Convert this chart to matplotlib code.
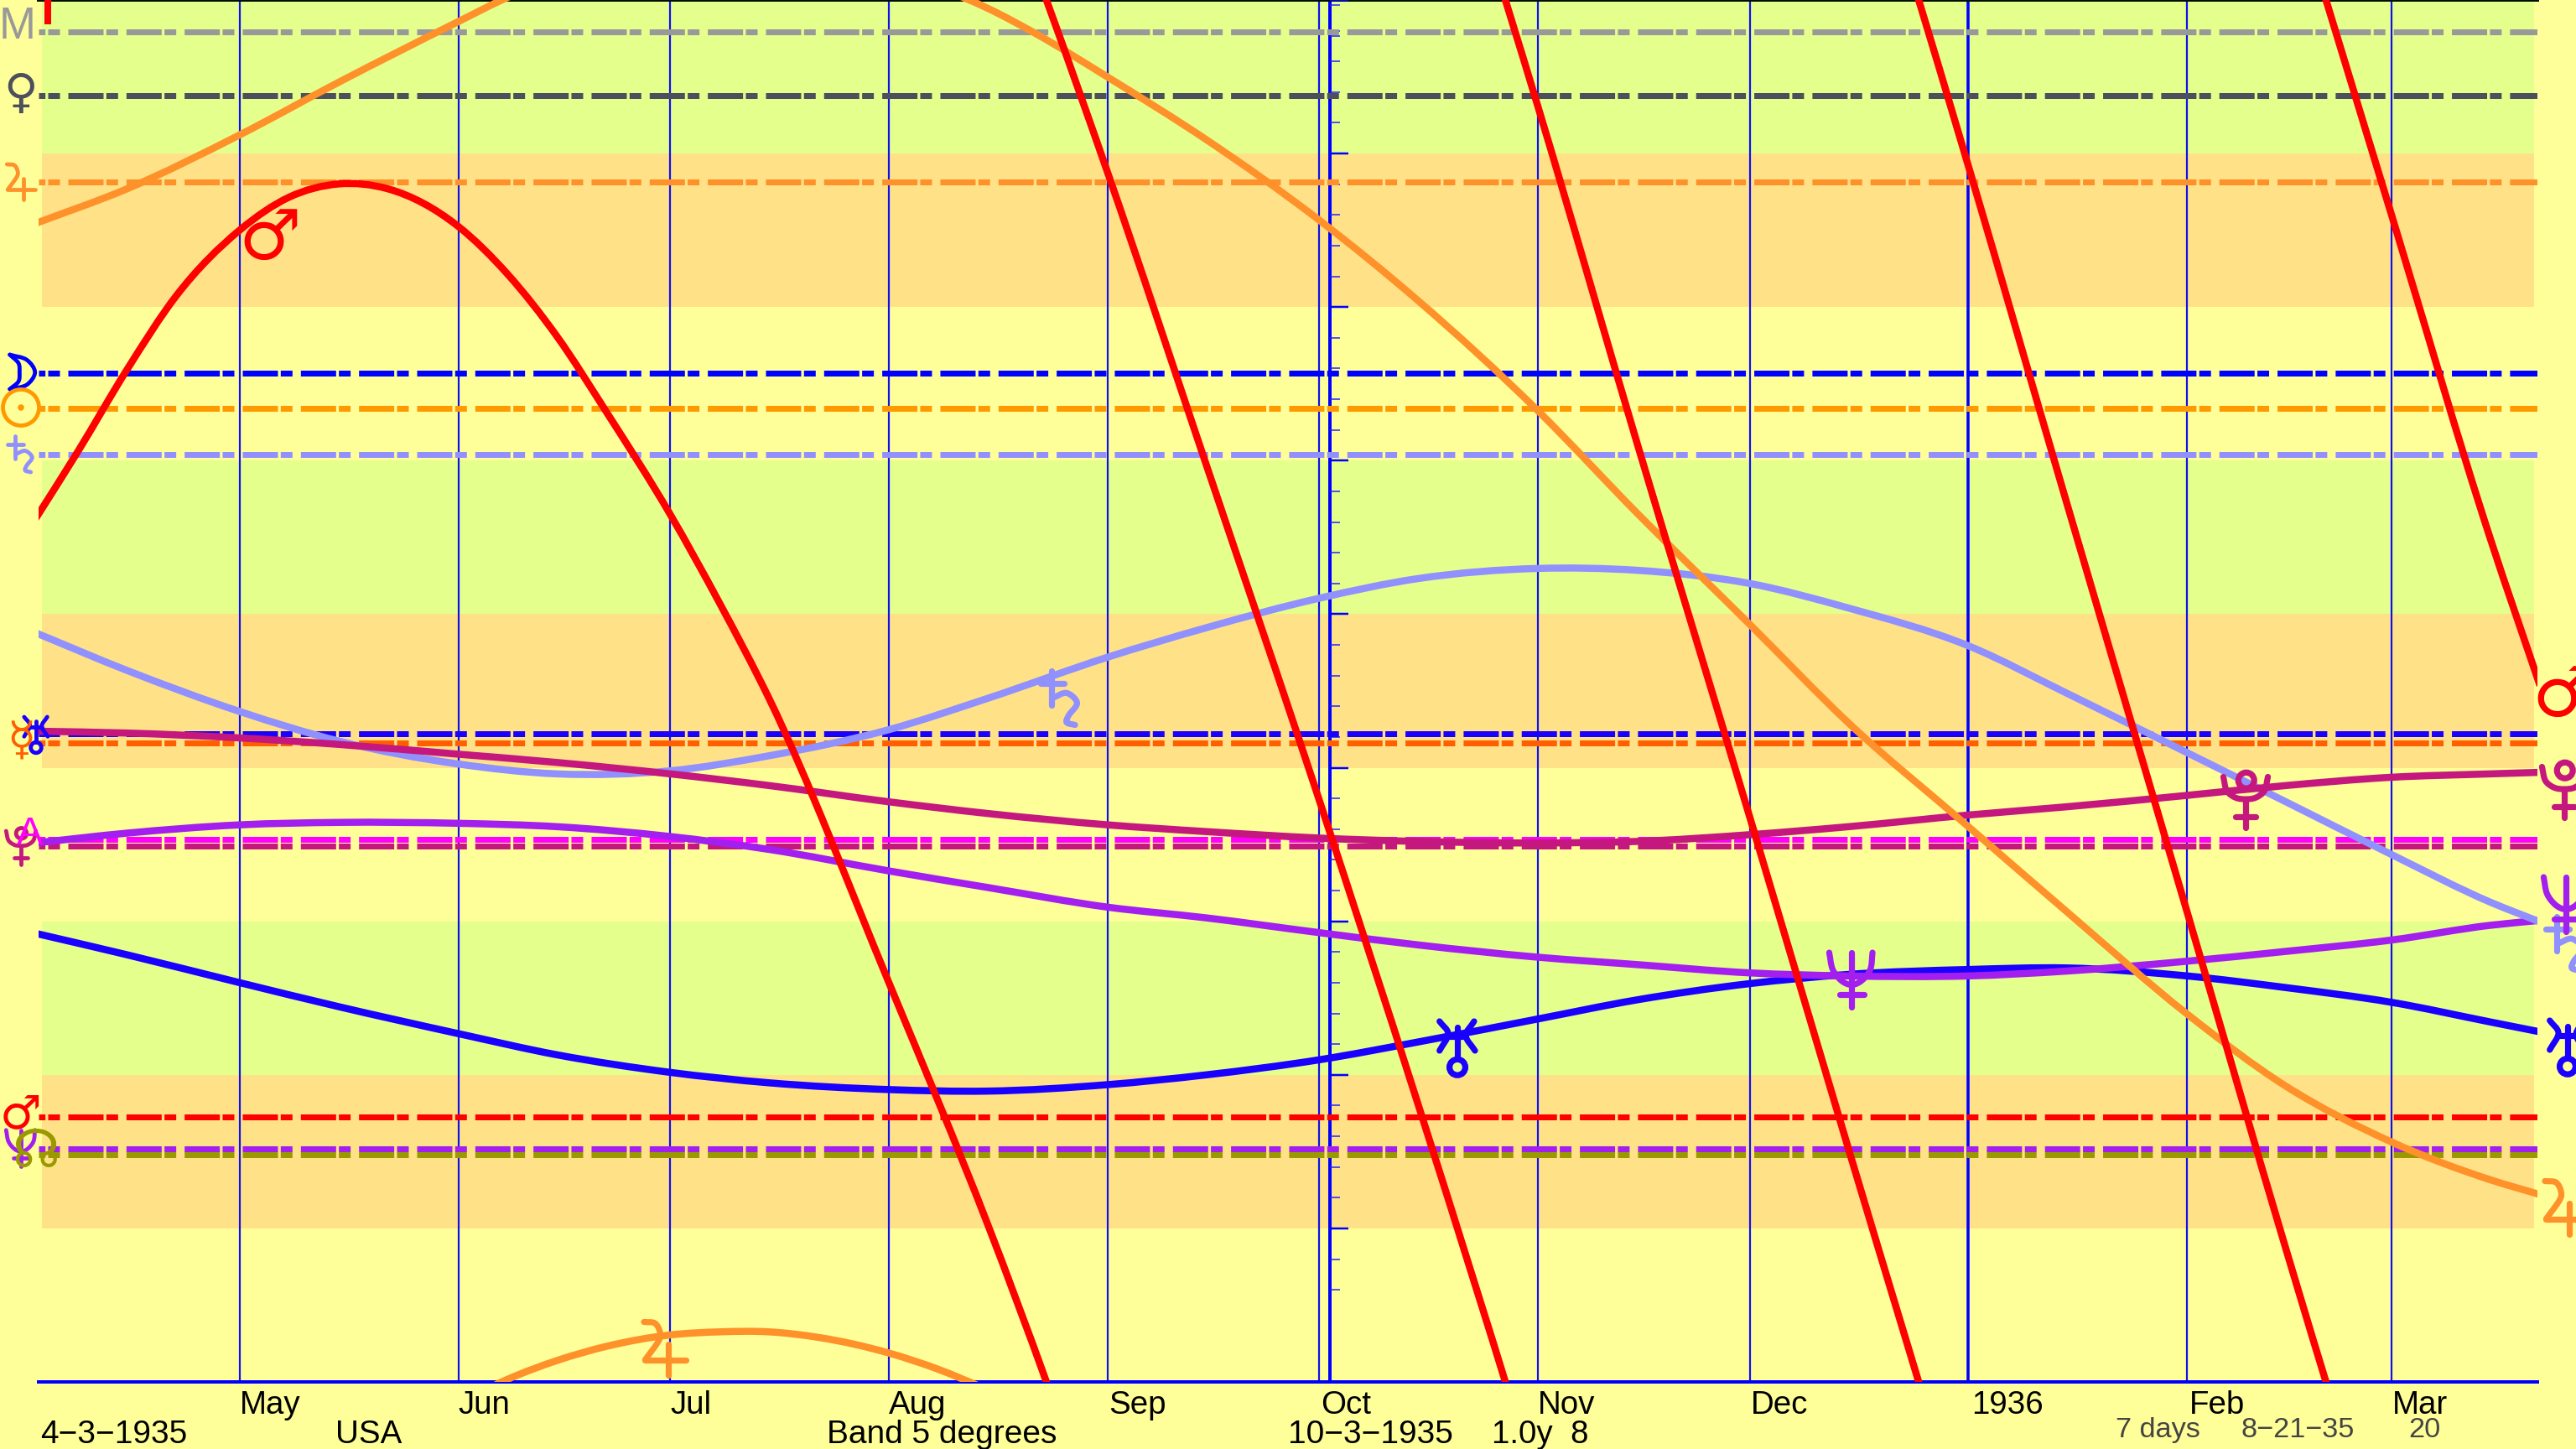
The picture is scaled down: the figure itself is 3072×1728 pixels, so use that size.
import matplotlib
matplotlib.use("Agg")
import matplotlib.pyplot as plt
import matplotlib.dates as mdates
import numpy as np
import pandas as pd
from matplotlib.patches import Circle, PathPatch
from matplotlib.path import Path
from matplotlib.transforms import Affine2D

# transit curves, degrees along the 45 degree dial (not wrapped)
slow_dates = ["1935-04-02", "1935-04-15", "1935-05-01", "1935-05-15", "1935-06-01", "1935-06-15",
              "1935-07-01", "1935-07-15", "1935-08-01", "1935-08-15", "1935-09-01", "1935-09-15",
              "1935-10-01", "1935-10-15", "1935-11-01", "1935-11-15", "1935-12-01", "1935-12-15",
              "1936-01-01", "1936-01-15", "1936-02-01", "1936-02-15", "1936-03-01", "1936-03-15",
              "1936-03-22"]
saturn_deg = [20.60, 21.83, 23.17, 24.13, 24.88, 25.20, 25.10, 24.61, 23.76, 22.74, 21.40, 20.44,
              19.48, 18.84, 18.51, 18.57, 19.00, 19.80, 21.03, 22.58, 24.51, 26.11, 27.83, 29.38, 30.02]
uranus_deg = [30.39, 31.09, 32.00, 32.78, 33.66, 34.35, 34.92, 35.26, 35.48, 35.53, 35.32, 35.00,
              34.51, 33.93, 33.18, 32.56, 32.03, 31.73, 31.57, 31.52, 31.78, 32.16, 32.64, 33.28, 33.60]
neptune_deg = [27.45, 27.13, 26.86, 26.78, 26.81, 26.92, 27.24, 27.66, 28.36, 28.90, 29.54, 29.89,
               30.37, 30.77, 31.17, 31.41, 31.68, 31.78, 31.78, 31.62, 31.30, 30.98, 30.61, 30.13, 29.97]
pluto_deg = [23.81, 23.87, 24.03, 24.24, 24.56, 24.83, 25.20, 25.58, 26.11, 26.49, 26.86, 27.08,
             27.29, 27.40, 27.45, 27.40, 27.18, 26.92, 26.54, 26.27, 25.90, 25.58, 25.31, 25.20, 25.15]

mars_dates = ["1935-04-02", "1935-04-08", "1935-04-15", "1935-04-22", "1935-05-01", "1935-05-08",
              "1935-05-15", "1935-05-22", "1935-06-01", "1935-06-08", "1935-06-15", "1935-06-22",
              "1935-07-01", "1935-07-08", "1935-07-15", "1935-08-01", "1935-08-15", "1935-09-01",
              "1935-09-15", "1935-10-01", "1935-10-15", "1935-11-01", "1935-11-15", "1935-12-01",
              "1935-12-15", "1936-01-01", "1936-01-15", "1936-02-01", "1936-02-15", "1936-03-01",
              "1936-03-15", "1936-03-22"]
mars_deg = [16.91, 14.72, 12.04, 9.63, 7.49, 6.42, 5.99, 6.15, 7.38, 8.94, 10.97, 13.43,
            16.75, 19.64, 22.74, 32.00, 39.87, 50.62, 60.15, 71.06, 80.96, 93.48, 104.40, 116.60,
            127.41, 140.41, 151.43, 164.70, 175.67, 187.02, 197.56, 202.32]

jupiter_dates = ["1935-04-02", "1935-04-15", "1935-05-01", "1935-05-15", "1935-06-01", "1935-06-08",
                 "1935-06-15", "1935-06-22", "1935-07-01", "1935-07-08", "1935-07-15", "1935-07-22",
                 "1935-08-01", "1935-08-08", "1935-08-15", "1935-08-22", "1935-09-01", "1935-09-15",
                 "1935-10-01", "1935-10-15", "1935-11-01", "1935-11-15", "1935-12-01", "1935-12-15",
                 "1936-01-01", "1936-01-15", "1936-02-01", "1936-02-15", "1936-03-01", "1936-03-15",
                 "1936-03-22"]
jupiter_deg = [7.28, 6.15, 4.39, 2.68, 0.70, -0.09, -0.70, -1.16, -1.53, -1.63, -1.63, -1.45,
               -0.94, -0.41, 0.27, 1.12, 2.51, 4.55, 7.17, 9.79, 13.38, 16.70, 20.33, 23.54,
               26.92, 29.70, 33.02, 35.37, 37.19, 38.42, 38.90]

# natal positions, degrees on the dial
natal_names = ["MC", "Venus", "Jupiter", "Moon", "Sun", "Saturn", "Uranus", "Mercury",
               "Asc", "Pluto", "Mars", "Neptune", "Node"]
natal_deg = [1.04, 3.10, 5.93, 12.16, 13.31, 14.80, 23.90, 24.19, 27.33, 27.54, 36.37, 37.41, 37.59]
natal_colors = ["#999999", "#4d4f5c", "#ff912b", "#0000ff", "#ff9900", "#9090ff", "#1a00ff",
                "#ff5f00", "#ff00ff", "#c4187f", "#ff0000", "#a31ff0", "#999900"]

band_edges = [0, 5, 10, 15, 20, 25, 30, 35, 40, 45]
band_colors = ["#e4ff8c", "#ffe288", None, "#e4ff8c", "#ffe288", None, "#e4ff8c", "#ffe288", None]

month_dates = ["1935-05-01", "1935-06-01", "1935-07-01", "1935-08-01", "1935-09-01", "1935-10-01",
               "1935-11-01", "1935-12-01", "1936-01-01", "1936-02-01", "1936-03-01"]
month_labels = ["May", "Jun", "Jul", "Aug", "Sep", "Oct", "Nov", "Dec", "1936", "Feb", "Mar"]
month_label_px = [286, 546, 799, 1060, 1322, 1575, 1834, 2088, 2351, 2611, 2853]

major_ticks = [0, 5, 10, 15, 20, 25, 30, 35, 40]
minor_ticks = [0.17, 1, 1.18] + list(range(2, 43))

start_date = "1935-04-03"
end_date = "1936-03-21 05:00"
center_date = "1935-10-02 12:00"
new_year = "1936-01-01"

W, H = 3072, 1728
BG = "#ffff99"
AX_LEFT, AX_RIGHT, AX_BOTTOM = 46, 3026, 1648
DAY_PX = 8.414
START_PX = 50.4

# hand drawn signs, pixel offsets from the sign centre at scale 1, y up
JUPITER = [[(-16.7, 21), (-8, 20), (-4, 13), (-5, 6), (-15.7, -9)], [(-15.7, -9), (16.7, -9)],
           [(2.7, 3.6), (2.7, -21.3)]]
SATURN = [[(-5.7, 20), (-5.7, -7.4)], [(-14.7, 10.3), (4.3, 10.3)],
          [(-5, -1.5), (6, 2.4), (14.3, -5.5), (7.7, -15.3), (6, -21), (12.7, -23)]]
URANUS = [[(-14.2, 20), (-7.3, 10), (-14.2, -3.3)], [(13.3, 20), (6.7, 8.7), (14, -3.3)],
          [(-7.3, 8), (6.7, 8)], [(0, 15.3), (0, -10)]]
NEPTUNE = [[(-17.7, 21.3), (-15, 8), (-8, -1), (0, -4.3), (8, -1), (15, 8), (16.7, 21.3)],
           [(0, 21.3), (0, -22)], [(-9.5, -12.3), (10, -12.3)]]
PLUTO = [[(-17.7, 17), (-15, 6), (-8, 0.5), (0, -0.7), (8, 0.5), (15, 6), (17.7, 17)],
         [(0, -0.7), (0, -23)], [(-8, -14.7), (8, -14.7)]]
MOON = [[(-13.3, 20), (6.7, 14), (16.7, -1), (6.7, -16), (-13.3, -21)],
        [(-13.3, 20), (-3, 10), (-1.7, -1), (-3, -12), (-13.3, -21)]]


def px(value):
    # pixels to points at dpi 100
    return value * 0.72


def to_num(dates):
    return mdates.date2num(pd.to_datetime(dates))


def smooth_path(xs, ys):
    # bezier through the read points
    xs, ys = np.asarray(xs, float), np.asarray(ys, float)
    m = np.gradient(ys, xs)
    verts, codes = [(xs[0], ys[0])], [Path.MOVETO]
    for i in range(len(xs) - 1):
        dx = (xs[i + 1] - xs[i]) / 3
        verts += [(xs[i] + dx, ys[i] + m[i] * dx), (xs[i + 1] - dx, ys[i + 1] - m[i + 1] * dx),
                  (xs[i + 1], ys[i + 1])]
        codes += [Path.CURVE4] * 3
    return Path(verts, codes)


def chord_path(points):
    # same idea for the signs, where x can go back, so run along the point index
    pts = np.array(points, float)
    if len(pts) == 2:
        return Path(pts, [Path.MOVETO, Path.LINETO])
    t = np.arange(len(pts))
    mx, my = np.gradient(pts[:, 0], t), np.gradient(pts[:, 1], t)
    verts, codes = [tuple(pts[0])], [Path.MOVETO]
    for i in range(len(pts) - 1):
        verts += [(pts[i, 0] + mx[i] / 3, pts[i, 1] + my[i] / 3),
                  (pts[i + 1, 0] - mx[i + 1] / 3, pts[i + 1, 1] - my[i + 1] / 3),
                  tuple(pts[i + 1])]
        codes += [Path.CURVE4] * 3
    return Path(verts, codes)


def label(x, y, s, size, color="black", family="Liberation Sans", **kw):
    fig.text(x / W, 1 - y / H, s, fontsize=size, color=color, family=family, **kw)


def glyph(x, y, s, size, color, weight="bold"):
    label(x, y, s, size, color, family="DejaVu Sans", ha="center", va="center", fontweight=weight)


def sign(x, y, scale, color, strokes, ring=None, dot=None):
    tr = Affine2D().scale(scale).translate(x, H - y)
    lw = px(4.8 * scale)
    for pts in strokes:
        fig.add_artist(PathPatch(chord_path(pts), fill=False, ec=color, lw=lw, capstyle="round",
                                 joinstyle="round", transform=tr))
    if ring:
        fig.add_artist(Circle(ring[:2], ring[2], fill=False, ec=color, lw=lw, transform=tr))
    if dot:
        fig.add_artist(Circle((0, 0), dot, fc=color, ec="none", transform=tr))


plt.rcParams["lines.scale_dashes"] = False
fig = plt.figure(figsize=(W / 100, H / 100), dpi=100, facecolor=BG)
ax = fig.add_axes([AX_LEFT / W, 1 - AX_BOTTOM / H, (AX_RIGHT - AX_LEFT) / W, AX_BOTTOM / H])
ax.set_facecolor(BG)

start_num = to_num(start_date)
ax.set_xlim(start_num + (AX_LEFT - START_PX) / DAY_PX, start_num + (AX_RIGHT - START_PX) / DAY_PX)
ax.set_ylim(45, 0)

x0, x1 = to_num(start_date), to_num(end_date)
for i, c in enumerate(band_colors):
    if c:
        ax.fill_between([x0, x1], band_edges[i], band_edges[i + 1], color=c, lw=0, zorder=0.5)

ax.vlines(to_num(month_dates), 0, 45, color="#1010ee", lw=px(2.2), zorder=1)
ax.vlines(to_num(new_year), 0, 45, color="#0000ff", lw=px(3.5), zorder=1)

# dash pattern: long, gap, short, gap
dash = (px(42), px(3.33), px(14), px(10))
for deg, c in zip(natal_deg, natal_colors):
    ax.plot(ax.get_xlim(), [deg, deg], color=c, lw=px(7), zorder=1.6,
            linestyle=(px(34.33), dash), dash_capstyle="butt")

# small red stub at the very top left
ax.vlines(to_num("1935-04-03 18:00"), 0, 0.8, color="#ff0000", lw=px(8), zorder=1.7)

curves = [(slow_dates, uranus_deg, "#1a00ff"),
          (slow_dates, neptune_deg, "#a31ff0"),
          (slow_dates, saturn_deg, "#9090ff"),
          (slow_dates, pluto_deg, "#c4187f"),
          (jupiter_dates, jupiter_deg, "#ff912b"),
          (mars_dates, mars_deg, "#ff0000")]
for dates, deg, c in curves:
    xs = to_num(dates)
    # the dial wraps every 45 degrees, the axes clip what falls outside
    for k in range(-4, 2):
        ax.add_patch(PathPatch(smooth_path(xs, np.array(deg) + 45 * k), fill=False, ec=c,
                               lw=px(8.5), capstyle="butt", joinstyle="round", zorder=2))

# centre date carries the degree scale
for name, sp in ax.spines.items():
    sp.set_zorder(1.5)
ax.spines["right"].set_visible(False)
ax.spines["top"].set_color("#001000")
ax.spines["top"].set_linewidth(px(4))
ax.spines["bottom"].set_color("#0000ff")
ax.spines["bottom"].set_linewidth(px(4))
ax.spines["left"].set_position(("data", to_num(center_date)))
ax.spines["left"].set_color("#0000ff")
ax.spines["left"].set_linewidth(px(4))
ax.set_xticks([])
ax.set_yticks(major_ticks)
ax.set_yticks(minor_ticks, minor=True)
ax.tick_params(axis="y", which="major", direction="in", length=px(22), width=px(2.5),
               color="#0000ff", labelleft=False)
ax.tick_params(axis="y", which="minor", direction="in", length=px(12), width=px(1.5),
               color="#2020ff")

for s, x in zip(month_labels, month_label_px):
    label(x, 1686, s, 27.7)
label(48, 1721, "4\u22123\u22121935", 28)
label(400, 1721, "USA", 27.7)
label(986, 1721, "Band 5 degrees", 28)
label(1536, 1721, "10\u22123\u22121935", 28)
label(1779, 1721, "1.0y  8", 27.7)
label(2523, 1714, "7 days", 24.7, "#444444")
label(2672, 1714, "8\u221221\u221235", 24.7, "#444444")
label(2872, 1714, "20", 24.7, "#444444")

SMALL, BIG = 40, 60
JUP, SAT, URA, NEP, PLU = "#ff912b", "#9090ff", "#1a00ff", "#a31ff0", "#c4187f"
URA_RING = (0, -16.5, 6.3)
PLU_RING = (0.5, 14.2, 6.3)

label(21, 32, "M", 38, "#999999", ha="center", va="center")
glyph(25, 113, "\u2640", SMALL, "#4d4f5c")
sign(25, 217, 1.0, JUP, JUPITER)
sign(25, 443, 1.0, "#0000ff", MOON)
sign(25, 486, 1.0, "#ff9900", [], ring=(0, 0, 21.5), dot=3.8)
sign(24, 540, 1.0, SAT, SATURN)
glyph(25, 885, "\u263f", SMALL, "#ff5f00")
sign(43, 875, 1.0, URA, URANUS, URA_RING)
sign(25, 1008, 1.0, PLU, PLUTO, PLU_RING)
label(36, 995, "A", 34, "#ff00ff", ha="center", va="center")
glyph(24, 1330, "\u2642", SMALL, "#ff0000")
sign(25, 1369, 1.0, NEP, NEPTUNE)
glyph(43, 1374, "\u260a", 46, "#999900")

glyph(3057, 830, "\u2642", BIG, "#ff0000")
sign(3058, 940, 1.5, PLU, PLUTO, PLU_RING)
sign(3058, 1123, 1.5, SAT, SATURN)
sign(3060, 1078, 1.5, NEP, NEPTUNE)
sign(3062, 1247, 1.5, URA, URANUS, URA_RING)
sign(3060, 1440, 1.5, JUP, JUPITER)

glyph(322, 285, "\u2642", BIG, "#ff0000")
sign(793, 1608, 1.5, JUP, JUPITER)
sign(1263, 830, 1.5, SAT, SATURN)
sign(1738, 1248, 1.5, URA, URANUS, URA_RING)
sign(2208, 1168, 1.5, NEP, NEPTUNE)
sign(2678, 952, 1.5, PLU, PLUTO, PLU_RING)

fig.savefig("out.png", dpi=100, facecolor=BG)
plt.close(fig)
